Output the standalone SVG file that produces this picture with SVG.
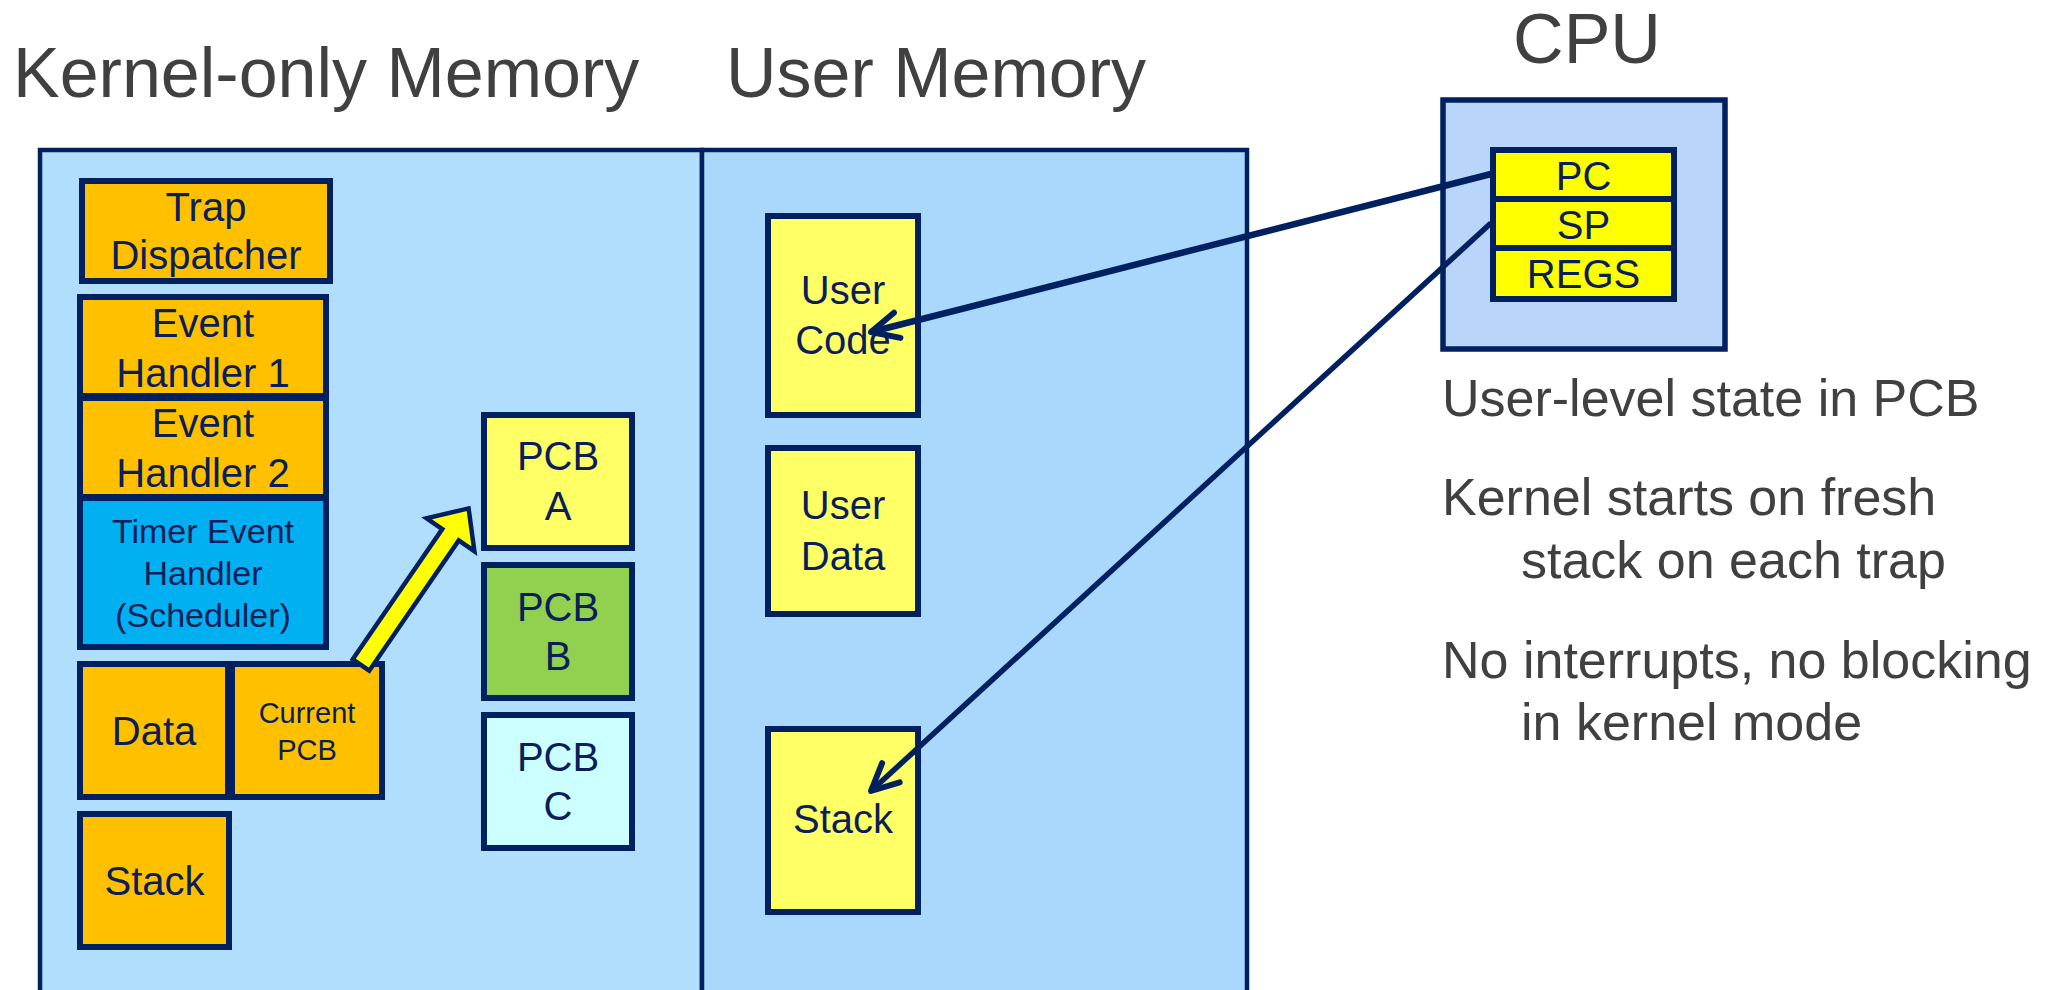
<svg xmlns="http://www.w3.org/2000/svg" width="2060" height="990" viewBox="0 0 2060 990">
<defs>
<style>
.title{font-family:"Liberation Sans",Arial,sans-serif;font-size:70px;fill:#404040}
.note{font-family:"Liberation Sans",Arial,sans-serif;font-size:52px;fill:#404040}
.box{stroke:#002060;stroke-width:6}
.lbl{font-family:"Liberation Sans",Arial,sans-serif;font-size:40px;fill:#0A1E5A;text-anchor:middle}
.sm{font-size:34px}
.xs{font-size:29px}
.conn{fill:none;stroke:#002060}
</style>
<marker id="chev" viewBox="-32 -18 36 36" refX="0" refY="0" markerWidth="36" markerHeight="36" markerUnits="userSpaceOnUse" orient="auto">
<path d="M-27,-13 L0,0 L-27,13" fill="none" stroke="#002060" stroke-width="6" stroke-linecap="round" stroke-linejoin="round"/>
</marker>
</defs>
<rect width="2060" height="990" fill="#FFFFFF"/>

<g id="titles">
<text class="title" x="13" y="97">Kernel-only Memory</text>
<text class="title" x="726" y="97">User Memory</text>
<text class="title" x="1587" y="63" text-anchor="middle">CPU</text>
</g>

<g id="memory">
<rect x="40" y="150" width="662" height="860" fill="#B2DEFE" stroke="#002060" stroke-width="4.500"/>
<rect x="702" y="150" width="545" height="860" fill="#A9D8FC" stroke="#002060" stroke-width="4.500"/>
</g>

<g id="trap-dispatcher">
<rect class="box" x="82" y="181" width="248" height="100" fill="#FFC000"/>
<text class="lbl" x="206" y="221">Trap</text>
<text class="lbl" x="206" y="269">Dispatcher</text>
</g>
<g id="event-handler-1">
<rect class="box" x="80" y="297" width="246" height="99" fill="#FFC000"/>
<text class="lbl" x="203" y="337">Event</text>
<text class="lbl" x="203" y="387">Handler 1</text>
</g>
<g id="event-handler-2">
<rect class="box" x="80" y="398" width="246" height="99" fill="#FFC000"/>
<text class="lbl" x="203" y="437">Event</text>
<text class="lbl" x="203" y="487">Handler 2</text>
</g>
<g id="timer-event-handler">
<rect class="box" x="80" y="498" width="246" height="149" fill="#00B0F0"/>
<text class="lbl sm" x="203" y="543">Timer Event</text>
<text class="lbl sm" x="203" y="585">Handler</text>
<text class="lbl sm" x="203" y="627">(Scheduler)</text>
</g>
<g id="kernel-data">
<rect class="box" x="80" y="664" width="148" height="133" fill="#FFC000"/>
<text class="lbl" x="154" y="745">Data</text>
</g>
<g id="current-pcb">
<rect class="box" x="232" y="664" width="150" height="133" fill="#FFC000"/>
<text class="lbl xs" x="307" y="723">Current</text>
<text class="lbl xs" x="307" y="760">PCB</text>
</g>
<g id="kernel-stack">
<rect class="box" x="80" y="814" width="149" height="133" fill="#FFC000"/>
<text class="lbl" x="154.500" y="895">Stack</text>
</g>

<g id="pcb-a">
<rect class="box" x="484" y="415" width="148" height="133" fill="#FFFF66"/>
<text class="lbl" x="558" y="470">PCB</text>
<text class="lbl" x="558" y="520">A</text>
</g>
<g id="pcb-b">
<rect class="box" x="484" y="565" width="148" height="133" fill="#92D050"/>
<text class="lbl" x="558" y="621">PCB</text>
<text class="lbl" x="558" y="670">B</text>
</g>
<g id="pcb-c">
<rect class="box" x="484" y="715" width="148" height="133" fill="#CCFFFF"/>
<text class="lbl" x="558" y="771">PCB</text>
<text class="lbl" x="558" y="820">C</text>
</g>

<g id="user-code">
<rect class="box" x="768" y="216" width="150" height="199" fill="#FFFF66"/>
<text class="lbl" x="843" y="304">User</text>
<text class="lbl" x="843" y="354">Code</text>
</g>
<g id="user-data">
<rect class="box" x="768" y="448" width="150" height="166" fill="#FFFF66"/>
<text class="lbl" x="843" y="519">User</text>
<text class="lbl" x="843" y="570">Data</text>
</g>
<g id="user-stack">
<rect class="box" x="768" y="729" width="150" height="183" fill="#FFFF66"/>
<text class="lbl" x="843" y="833">Stack</text>
</g>

<g id="cpu">
<rect x="1443" y="100" width="282" height="249" fill="#B9D5FA" stroke="#002060" stroke-width="5.500"/>
</g>
<g id="reg-pc">
<rect class="box" x="1493" y="150" width="181" height="49" fill="#FFFF00"/>
<text class="lbl" x="1583.500" y="190">PC</text>
</g>
<g id="reg-sp">
<rect class="box" x="1493" y="199" width="181" height="49" fill="#FFFF00"/>
<text class="lbl" x="1583.500" y="239">SP</text>
</g>
<g id="reg-regs">
<rect class="box" x="1493" y="248" width="181" height="51" fill="#FFFF00"/>
<text class="lbl" x="1583.500" y="288">REGS</text>
</g>

<g id="notes">
<text class="note" x="1442" y="416">User-level state in PCB</text>
<text class="note" x="1442" y="515">Kernel starts on fresh</text>
<text class="note" x="1521" y="578">stack on each trap</text>
<text class="note" x="1442" y="678">No interrupts, no blocking</text>
<text class="note" x="1521" y="740">in kernel mode</text>
</g>

<g id="connectors">
<line class="conn" x1="1491" y1="174" x2="871" y2="332" stroke-width="6.500" marker-end="url(#chev)"/>
<line class="conn" x1="1491" y1="223" x2="871" y2="791" stroke-width="5.500" marker-end="url(#chev)"/>
<polygon transform="translate(361,665) rotate(-55.5)" points="0,-10 158,-10 158,-29 190,0 158,29 158,10 0,10" fill="#FFFF00" stroke="#002060" stroke-width="4.500" stroke-linejoin="miter"/>
</g>
</svg>
